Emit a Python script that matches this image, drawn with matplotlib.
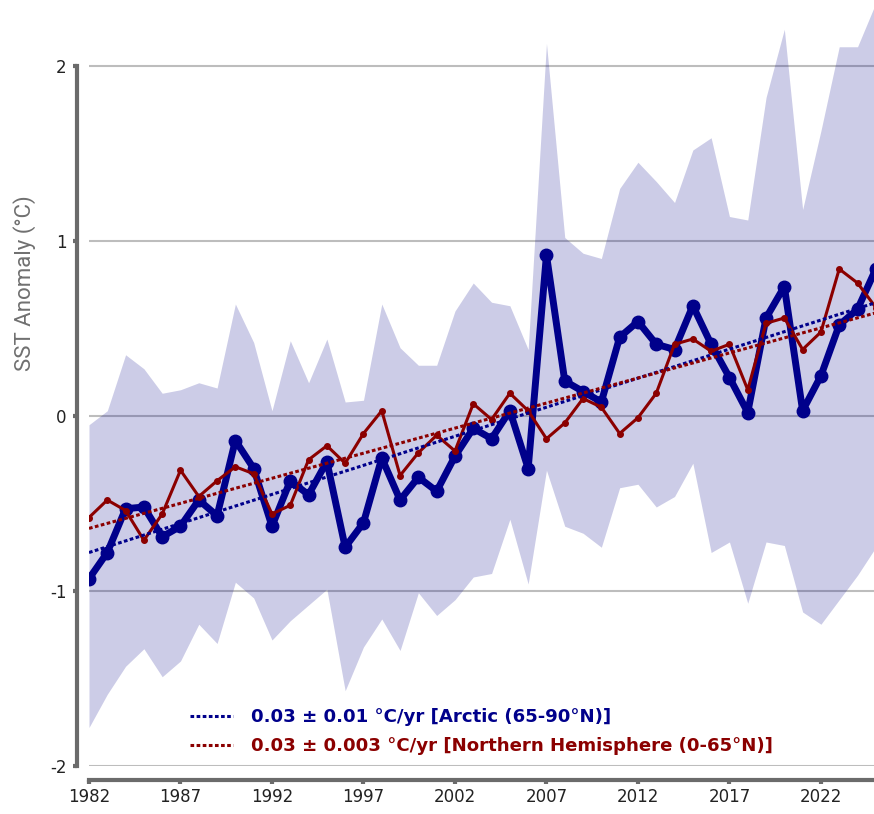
import numpy as np
import matplotlib
matplotlib.use("Agg")
import matplotlib.pyplot as plt

# Annual SST anomalies (°C)
years = np.arange(1982, 2026)

arctic = [-0.93, -0.78, -0.53, -0.52, -0.69, -0.63, -0.48, -0.57, -0.14, -0.30,
          -0.63, -0.37, -0.45, -0.26, -0.75, -0.61, -0.24, -0.48, -0.35, -0.43,
          -0.23, -0.07, -0.13, 0.03, -0.30, 0.92, 0.20, 0.14, 0.08, 0.45,
          0.54, 0.41, 0.38, 0.63, 0.41, 0.22, 0.02, 0.56, 0.74, 0.03,
          0.23, 0.52, 0.61, 0.84]

nh = [-0.58, -0.48, -0.54, -0.71, -0.56, -0.31, -0.46, -0.37, -0.29, -0.33,
      -0.56, -0.51, -0.25, -0.17, -0.27, -0.10, 0.03, -0.34, -0.21, -0.11,
      -0.20, 0.07, -0.02, 0.13, 0.03, -0.13, -0.04, 0.10, 0.05, -0.10,
      -0.01, 0.13, 0.41, 0.44, 0.37, 0.41, 0.15, 0.53, 0.56, 0.38,
      0.48, 0.84, 0.76, 0.62]

# spread of the Arctic anomaly
arctic_hi = [-0.05, 0.03, 0.35, 0.27, 0.13, 0.15, 0.19, 0.16, 0.64, 0.42,
             0.03, 0.43, 0.19, 0.44, 0.08, 0.09, 0.64, 0.39, 0.29, 0.29,
             0.60, 0.76, 0.65, 0.63, 0.38, 2.13, 1.02, 0.93, 0.90, 1.30,
             1.45, 1.34, 1.22, 1.52, 1.59, 1.14, 1.12, 1.82, 2.21, 1.18,
             1.63, 2.11, 2.11, 2.36]

arctic_lo = [-1.78, -1.59, -1.43, -1.33, -1.49, -1.40, -1.19, -1.30, -0.95, -1.04,
             -1.28, -1.17, -1.08, -0.99, -1.57, -1.32, -1.16, -1.34, -1.01, -1.14,
             -1.05, -0.92, -0.90, -0.59, -0.96, -0.31, -0.63, -0.67, -0.75, -0.41,
             -0.39, -0.52, -0.46, -0.27, -0.78, -0.72, -1.07, -0.72, -0.74, -1.12,
             -1.19, -1.05, -0.91, -0.75]

labels = ["0.03 \u00b1 0.01 \u00b0C/yr [Arctic (65-90\u00b0N)]",
          "0.03 \u00b1 0.003 \u00b0C/yr [Northern Hemisphere (0-65\u00b0N)]"]

blue = "#00008b"
red = "#8b0000"
grey = "#6b6b6b"

plt.rcParams["font.family"] = ["DejaVu Sans"]
plt.rcParams["axes.unicode_minus"] = False

fig = plt.figure(figsize=(8.74, 8.14), dpi=100)
ax = fig.add_axes([89 / 874, 48 / 814, 1 - 89 / 874, 1 - 48 / 814])

ax.fill_between(years, arctic_lo, arctic_hi, color=blue, alpha=0.2, lw=0, zorder=1)
ax.plot(years, arctic, color=blue, lw=5, marker="o", ms=9, zorder=3)
ax.plot(years, nh, color=red, lw=2.2, marker="o", ms=4, zorder=4)

# linear trends
dots = (0, (1.2, 0.8))
for vals, c, lab in [(arctic, blue, labels[0]), (nh, red, labels[1])]:
    slope, icpt = np.polyfit(years, vals, 1)
    ax.plot(years, slope * years + icpt, color=c, lw=2.2, ls=dots, label=lab, zorder=5)

ax.set_xlim(1982, 2024.9)
ax.set_ylim(-2, 416 / 175)
ax.set_yticks([-2, -1, 0, 1, 2])
ax.set_xticks(np.arange(1982, 2023, 5))
ax.grid(axis="y", color="#bdbdbd", lw=1.5, zorder=0)
ax.grid(axis="x", visible=False)
ax.set_axisbelow(True)

for side in ["top", "right"]:
    ax.spines[side].set_visible(False)
ax.spines["left"].set_position(("outward", 9))
ax.spines["bottom"].set_position(("outward", 10))
ax.spines["left"].set_bounds(-2, 2)
for side in ["left", "bottom"]:
    ax.spines[side].set_color(grey)
    ax.spines[side].set_linewidth(3)
ax.tick_params(axis="both", direction="out", length=3, width=3, color=grey,
               labelsize=12, labelcolor="#222222")
ax.tick_params(axis="y", pad=4)
ax.tick_params(axis="x", pad=3)

ax.set_ylabel("SST Anomaly (\u00b0C)", fontsize=16, color="#707070",
              family=["Roboto", "DejaVu Sans"])
ax.yaxis.set_label_coords(-0.068, 0.63)

leg = ax.legend(loc="lower center", frameon=False, handlelength=2.4,
                handletextpad=1.0, labelspacing=0.6, labelcolor="linecolor",
                prop={"weight": "bold", "size": 13.1}, borderaxespad=0.2)

fig.savefig("out.png", dpi=100)
